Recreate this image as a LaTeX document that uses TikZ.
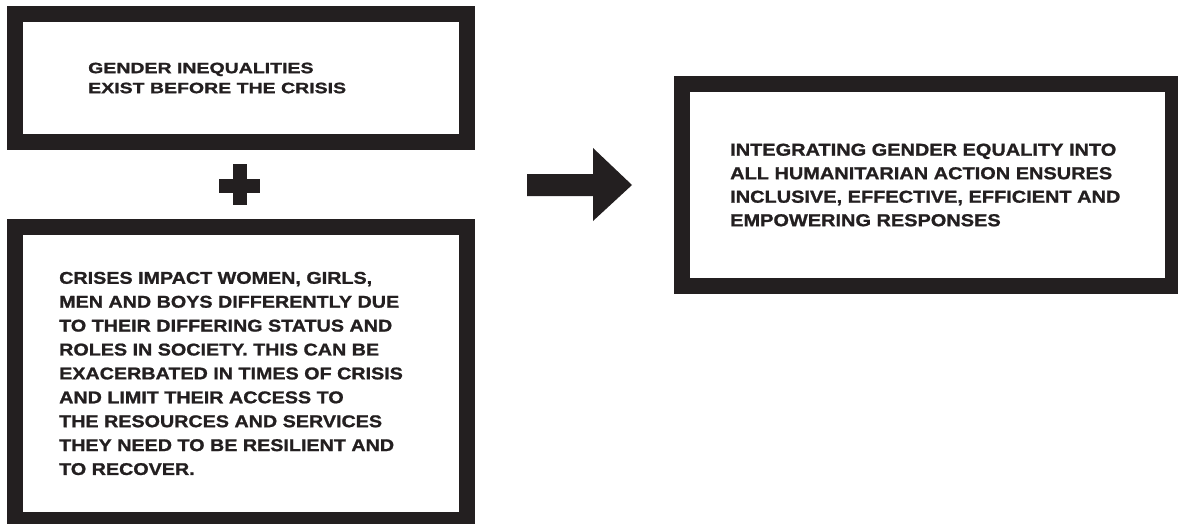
\documentclass[tikz,border=0pt]{standalone}
\usepackage{fontspec}
\usepackage{tikz}
\usetikzlibrary{positioning, calc}
\newfontfamily\widefont[FakeStretch=1.16, FakeBold=1.2]{Liberation Sans Bold}
\newfontfamily\widerfont[FakeStretch=1.30, FakeBold=1.2]{Liberation Sans Bold}
\definecolor{ink}{HTML}{231F20}

\begin{document}
\begin{tikzpicture}[x=1pt, y=-1pt]
                \tikzset{
                    framebox/.style={draw=ink, line width=16pt, inner sep=0pt, fill=white},
                    txtbox/.style={inner sep=0pt, align=left, text=ink, anchor=west}
                }
                \useasboundingbox[fill=white] (0,0) rectangle (1178,524);

                \node[framebox, minimum width=452pt, minimum height=128pt] (before) at (241, 78) {};
                \node[framebox, minimum width=452pt, minimum height=293pt] (impact) at (241, 373.5) {};
                \node[framebox, minimum width=491pt, minimum height=202pt] (integr) at (927.5, 185) {};

                \node[txtbox, font=\widerfont\fontsize{15}{20}\selectfont] (beforetxt) at ([xshift=81pt]before.west)
                    {GENDER INEQUALITIES\\EXIST BEFORE THE CRISIS};
                \node[txtbox, font=\widefont\fontsize{17}{23.9}\selectfont] (impacttxt) at ([xshift=52pt]impact.west)
                    {CRISES IMPACT WOMEN, GIRLS,\\MEN AND BOYS DIFFERENTLY DUE\\TO THEIR DIFFERING STATUS AND\\ROLES IN SOCIETY. THIS CAN BE\\EXACERBATED IN TIMES OF CRISIS\\AND LIMIT THEIR ACCESS TO\\THE RESOURCES AND SERVICES\\THEY NEED TO BE RESILIENT AND\\TO RECOVER.};
                \node[txtbox, font=\widefont\fontsize{17.2}{23.5}\selectfont] (integrtxt) at ([xshift=56pt]integr.west)
                    {INTEGRATING GENDER EQUALITY INTO\\ALL HUMANITARIAN ACTION ENSURES\\INCLUSIVE, EFFECTIVE, EFFICIENT AND\\EMPOWERING RESPONSES};

                % plus sign
                \fill[ink] (219, 179) rectangle (260, 193);
                \fill[ink] (233, 164) rectangle (247, 205);

                % block arrow
                \fill[ink] (527, 174) -- (593, 174) -- (593, 148) -- (632, 185)
                    -- (593, 221) -- (593, 196) -- (527, 196) -- cycle;
            \end{tikzpicture}
\end{document}
